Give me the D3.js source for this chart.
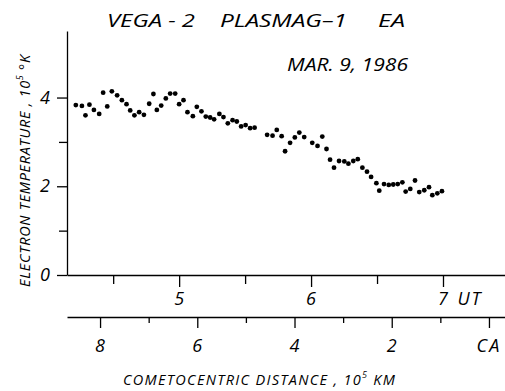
<!DOCTYPE html>
<meta charset="utf-8">
<head>
    <title>VEGA-2 PLASMAG-1 EA</title>
    <script src="https://d3js.org/d3.v7.min.js"></script>
</head>
<style type="text/css">
body {
    margin: 0;
    background: #ffffff;
}
svg text {
    font-family: "Open Sans", "DejaVu Sans", sans-serif;
    font-style: italic;
    font-weight: 400;
    fill: #000;
}
.domain, .tick line {
    stroke: #000;
    stroke-width: 1.3px;
}
</style>
<body>
    <svg id="chart" width="505" height="391"></svg>

    <script type="text/javascript">
        // UT hours of each sample
        var utHours = [
            4.217, 4.263, 4.290, 4.320, 4.354, 4.394, 4.424, 4.455, 4.490, 4.530,
            4.566, 4.601, 4.629, 4.661, 4.697, 4.733, 4.773, 4.805, 4.831, 4.864,
            4.899, 4.932, 4.970, 5.000, 5.033, 5.063, 5.104, 5.134, 5.169, 5.202,
            5.235, 5.265, 5.305, 5.336, 5.369, 5.405, 5.437, 5.470, 5.504, 5.538,
            5.572, 5.667, 5.708, 5.740, 5.777, 5.803, 5.841, 5.877, 5.911, 5.948,
            6.009, 6.049, 6.085, 6.117, 6.144, 6.174, 6.212, 6.252, 6.283, 6.320,
            6.354, 6.389, 6.424, 6.455, 6.495, 6.517, 6.553, 6.589, 6.623, 6.657,
            6.692, 6.717, 6.752, 6.788, 6.820, 6.858, 6.894, 6.919, 6.957, 6.992
        ];
        // electron temperature, 10^5 K
        var temps = [
            3.83, 3.81, 3.60, 3.84, 3.72, 3.63, 4.11, 3.80, 4.14, 4.05,
            3.94, 3.85, 3.71, 3.60, 3.67, 3.61, 3.86, 4.08, 3.72, 3.82,
            3.98, 4.09, 4.09, 3.85, 3.94, 3.67, 3.58, 3.79, 3.69, 3.57,
            3.55, 3.51, 3.63, 3.56, 3.42, 3.49, 3.46, 3.35, 3.38, 3.31,
            3.32, 3.16, 3.14, 3.27, 3.13, 2.79, 2.98, 3.10, 3.21, 3.11,
            2.98, 2.91, 3.12, 2.84, 2.60, 2.42, 2.57, 2.56, 2.51, 2.57,
            2.61, 2.42, 2.33, 2.21, 2.07, 1.90, 2.05, 2.03, 2.04, 2.05,
            2.09, 1.88, 1.94, 2.13, 1.87, 1.91, 1.98, 1.80, 1.84, 1.89
        ];
        var yTicks = [0, 2, 4];
        var yMinorTicks = [1, 3];
        var utTicks = [5, 6, 7];
        var utMinorTicks = [4.5, 5.5, 6.5];
        var distTicks = [8, 6, 4, 2];
        var distMinorTicks = [7, 5, 3, 1];

        var svg = d3.select("#chart");

        var y = d3.scaleLinear().domain([0, 5.5]).range([275, 31]);
        var xUT = d3.scaleLinear().domain([4.15, 7.47]).range([67, 505]);
        var xDist = d3.scaleLinear().domain([8.68, -0.33]).range([67, 505]);

        // y axis
        var gy = svg.append("g").attr("transform", "translate(67,0)");
        gy.call(d3.axisLeft(y).tickValues(yTicks).tickSize(10).tickSizeOuter(0).tickFormat(""));
        gy.append("g").call(d3.axisLeft(y).tickValues(yMinorTicks).tickSize(8).tickFormat(""))
            .select(".domain").remove();
        gy.selectAll("text.ylab").data(yTicks).enter().append("text")
            .attr("class", "ylab")
            .attr("x", -22)
            .attr("y", function(d) { return y(d) + 6; })
            .attr("text-anchor", "middle")
            .style("font-size", "18px")
            .text(function(d) { return d; });

        // UT axis
        var gx = svg.append("g").attr("transform", "translate(0,275)");
        gx.call(d3.axisBottom(xUT).tickValues(utTicks).tickSize(12).tickSizeOuter(0).tickFormat(""));
        gx.append("g").call(d3.axisBottom(xUT).tickValues(utMinorTicks).tickSize(9).tickFormat(""))
            .select(".domain").remove();
        gx.selectAll("text.utlab").data(utTicks).enter().append("text")
            .attr("class", "utlab")
            .attr("x", function(d) { return xUT(d); })
            .attr("y", 30)
            .attr("text-anchor", "middle")
            .style("font-size", "18px")
            .text(function(d) { return d; });
        gx.append("text").attr("x", 470).attr("y", 30).style("font-size", "18px")
            .style("letter-spacing", "2px").text("UT");

        // distance axis
        var gd = svg.append("g").attr("transform", "translate(0,317)");
        gd.call(d3.axisBottom(xDist).tickValues(distTicks.concat([0])).tickSize(11).tickSizeOuter(0).tickFormat(""));
        gd.append("g").call(d3.axisBottom(xDist).tickValues(distMinorTicks).tickSize(6).tickFormat(""))
            .select(".domain").remove();
        gd.selectAll("text.dlab").data(distTicks).enter().append("text")
            .attr("class", "dlab")
            .attr("x", function(d) { return xDist(d); })
            .attr("y", 35)
            .attr("text-anchor", "middle")
            .style("font-size", "18px")
            .text(function(d) { return d; });
        gd.append("text").attr("x", xDist(0)).attr("y", 35).attr("text-anchor", "middle")
            .style("font-size", "18px").style("letter-spacing", "2px").text("CA");

        // data points
        svg.append("g").selectAll("circle").data(utHours).enter().append("circle")
            .attr("cx", function(d) { return xUT(d); })
            .attr("cy", function(d, i) { return y(temps[i]); })
            .attr("r", 2.4)
            .attr("fill", "#000");

        // titles
        svg.append("text").attr("x", 107).attr("y", 27).style("font-size", "18px")
            .attr("textLength", 88).attr("lengthAdjust", "spacingAndGlyphs").text("VEGA - 2");
        svg.append("text").attr("x", 220).attr("y", 27).style("font-size", "18px")
            .attr("textLength", 127).attr("lengthAdjust", "spacingAndGlyphs").text("PLASMAG\u20131");
        svg.append("text").attr("x", 378).attr("y", 27).style("font-size", "18px")
            .attr("textLength", 27).attr("lengthAdjust", "spacingAndGlyphs").text("EA");
        svg.append("text").attr("x", 287).attr("y", 71).style("font-size", "19px")
            .attr("textLength", 121).attr("lengthAdjust", "spacingAndGlyphs").text("MAR. 9, 1986");

        // axis titles
        var xt = svg.append("text").attr("x", 123).attr("y", 385)
            .style("font-size", "14.5px").style("letter-spacing", "1.3px");
        xt.append("tspan").text("COMETOCENTRIC  DISTANCE , 10");
        xt.append("tspan").attr("dy", -7).style("font-size", "9px").text("5");
        xt.append("tspan").attr("dy", 7).text(" KM");

        var yt = svg.append("text").attr("transform", "translate(30,287) rotate(-90)")
            .style("font-size", "14.5px").style("letter-spacing", "0.7px");
        yt.append("tspan").text("ELECTRON  TEMPERATURE , 10");
        yt.append("tspan").attr("dy", -7).style("font-size", "9px").text("5");
        yt.append("tspan").attr("dy", 7).text("  \u00b0K");
    </script>
</body>
